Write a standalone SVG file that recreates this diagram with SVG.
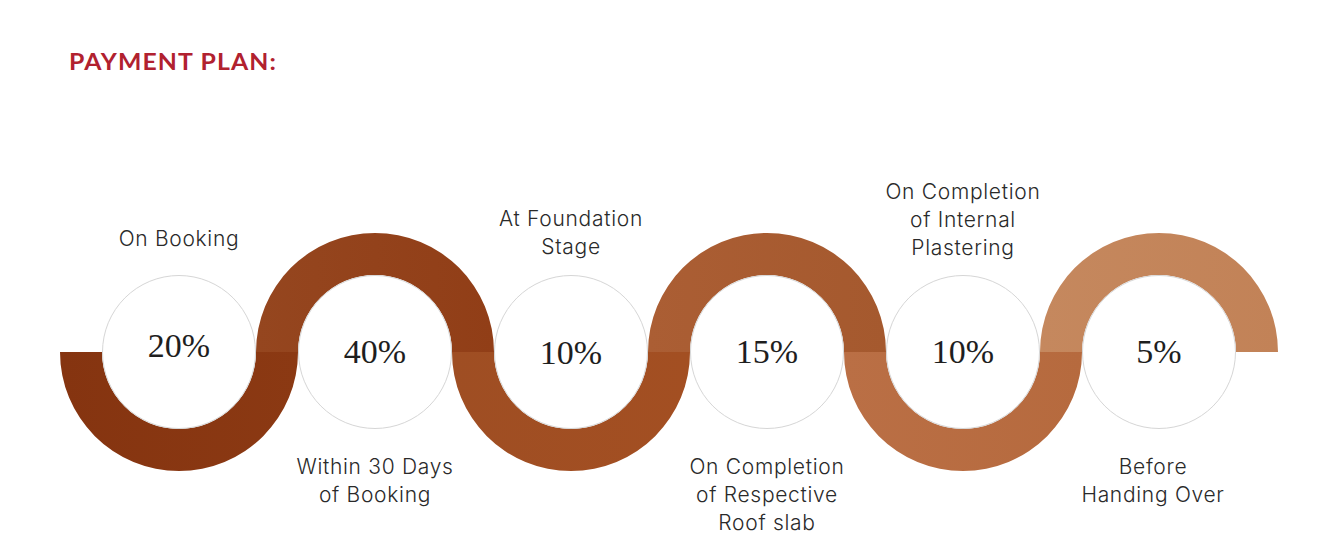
<svg xmlns="http://www.w3.org/2000/svg" width="1336" height="549" viewBox="0 0 1336 549">
<style>
.title{font-family:"Lato","Liberation Sans",sans-serif;font-weight:700;font-size:22px;fill:#b1212f;letter-spacing:1px}
.lbl{font-family:"Inter","Noto Sans",sans-serif;font-weight:300;font-size:21px;letter-spacing:0.7px;fill:#2a2a2a;text-anchor:middle}
.pct{font-family:"Liberation Serif","DejaVu Serif",serif;font-size:34px;fill:#1e1e1e;text-anchor:middle}
.ring{fill:#fff;stroke:#d6d6d6;stroke-width:1}
</style>
<defs>
<linearGradient id="g1" x1="0" x2="1" y1="0" y2="0"><stop offset="0" stop-color="#853410"/><stop offset="1" stop-color="#8b3913"/></linearGradient>
<linearGradient id="g2" x1="0" x2="1" y1="0" y2="0"><stop offset="0" stop-color="#95461f"/><stop offset="1" stop-color="#913e17"/></linearGradient>
<linearGradient id="g3" x1="0" x2="1" y1="0" y2="0"><stop offset="0" stop-color="#9f4e23"/><stop offset="1" stop-color="#a34f22"/></linearGradient>
<linearGradient id="g4" x1="0" x2="1" y1="0" y2="0"><stop offset="0" stop-color="#ab5e34"/><stop offset="1" stop-color="#a5592e"/></linearGradient>
<linearGradient id="g5" x1="0" x2="1" y1="0" y2="0"><stop offset="0" stop-color="#ba6f45"/><stop offset="1" stop-color="#b66a3e"/></linearGradient>
<linearGradient id="g6" x1="0" x2="1" y1="0" y2="0"><stop offset="0" stop-color="#c5885e"/><stop offset="1" stop-color="#c28257"/></linearGradient>
</defs>
<rect width="1336" height="549" fill="#fff"/>
<text class="title" x="69" y="70" textLength="208" lengthAdjust="spacingAndGlyphs">PAYMENT PLAN:</text>
<g id="connectors">
<path fill="url(#g1)" d="M60,352 A119,119 0 0 0 298,352 L256,352 A77,77 0 0 1 102,352 Z"/>
<path fill="url(#g2)" d="M256,352 A119,119 0 0 1 494,352 L452,352 A77,77 0 0 0 298,352 Z"/>
<path fill="url(#g3)" d="M452,352 A119,119 0 0 0 690,352 L648,352 A77,77 0 0 1 494,352 Z"/>
<path fill="url(#g4)" d="M648,352 A119,119 0 0 1 886,352 L844,352 A77,77 0 0 0 690,352 Z"/>
<path fill="url(#g5)" d="M844,352 A119,119 0 0 0 1082,352 L1040,352 A77,77 0 0 1 886,352 Z"/>
<path fill="url(#g6)" d="M1040,352 A119,119 0 0 1 1278,352 L1236,352 A77,77 0 0 0 1082,352 Z"/>
</g>
<g id="n1">
<circle class="ring" cx="179" cy="352" r="76.5"/>
<text class="pct" x="179" y="357">20%</text>
<text class="lbl" x="179" y="246">On Booking</text>
</g>
<g id="n2">
<circle class="ring" cx="375" cy="352" r="76.5"/>
<text class="pct" x="375" y="363">40%</text>
<text class="lbl" x="375" y="474">Within 30 Days</text>
<text class="lbl" x="375" y="502">of Booking</text>
</g>
<g id="n3">
<circle class="ring" cx="571" cy="352" r="76.5"/>
<text class="pct" x="571" y="364">10%</text>
<text class="lbl" x="571" y="226">At Foundation</text>
<text class="lbl" x="571" y="254">Stage</text>
</g>
<g id="n4">
<circle class="ring" cx="767" cy="352" r="76.5"/>
<text class="pct" x="767" y="363">15%</text>
<text class="lbl" x="767" y="474">On Completion</text>
<text class="lbl" x="767" y="502">of Respective</text>
<text class="lbl" x="767" y="530">Roof slab</text>
</g>
<g id="n5">
<circle class="ring" cx="963" cy="352" r="76.5"/>
<text class="pct" x="963" y="363">10%</text>
<text class="lbl" x="963" y="199">On Completion</text>
<text class="lbl" x="963" y="227">of Internal</text>
<text class="lbl" x="963" y="255">Plastering</text>
</g>
<g id="n6">
<circle class="ring" cx="1159" cy="352" r="76.5"/>
<text class="pct" x="1159" y="363">5%</text>
<text class="lbl" x="1153" y="474">Before</text>
<text class="lbl" x="1153" y="502">Handing Over</text>
</g>
</svg>
